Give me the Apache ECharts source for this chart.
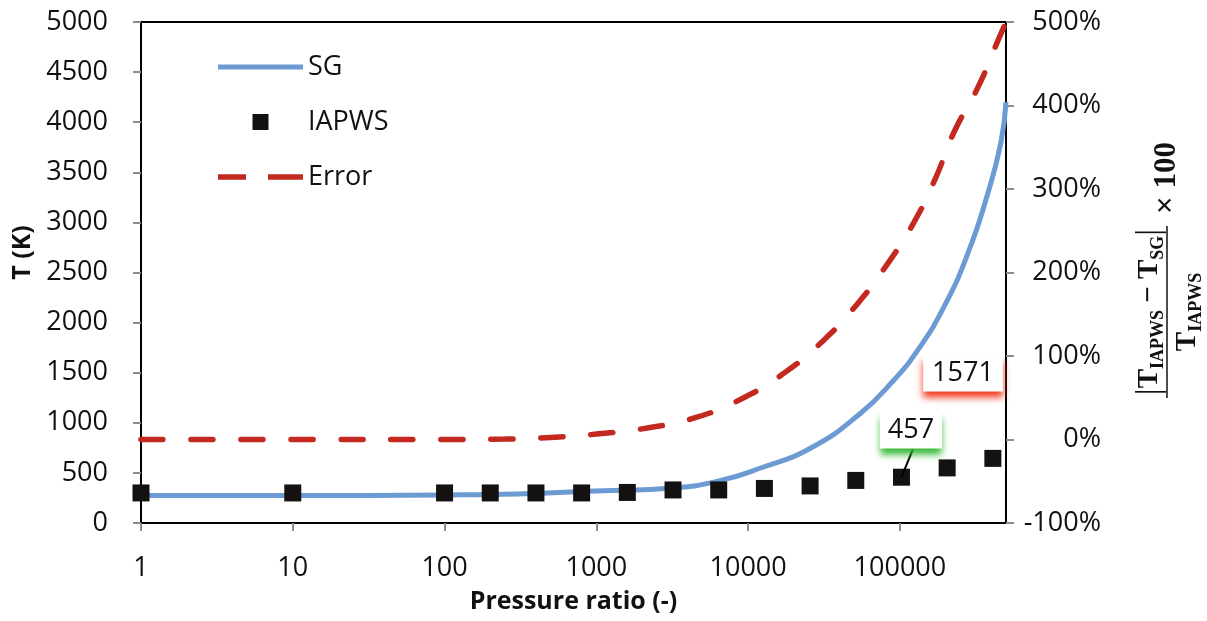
<!DOCTYPE html>
<html>
<head>
<meta charset="utf-8">
<title>SG vs IAPWS</title>
<script src="https://cdn.jsdelivr.net/npm/echarts@6/dist/echarts.min.js"></script>
<style>
  html, body { margin: 0; padding: 0; background: #fff; }
  #main { width: 1207px; height: 621px; }
</style>
</head>
<body>
<div id="main"></div>
<script>
// IAPWS 数据点 (压比, 温度 K)
var iapwsPressure = [1, 10, 100, 200, 400, 800, 1600, 3200, 6400, 12800, 25600, 51200, 102400, 204800, 409600];
var iapwsTemp = [300, 300, 300, 300, 300, 300, 305, 330, 330, 345, 370, 425, 457, 550, 645];

// SG 曲线 (读图取点)
var sgPressure = [1, 10, 100, 300, 1000, 3200, 6400, 12100, 25900, 55300, 91300, 131400, 195000, 281000, 380000, 463000, 500000];
var sgTemp = [275, 275, 280, 290, 320, 350, 420, 549, 749, 1098, 1427, 1727, 2156, 2695, 3293, 3800, 4200];

// 误差曲线 (%)
var errPressure = [1, 10, 100, 250, 500, 1000, 2210, 4650, 9350, 17700, 31500, 52800, 83300, 123700, 172700, 227000, 327000, 443000, 500000];
var errPercent = [0, 0, 0, 0.5, 2.5, 6.5, 14, 27, 50, 81, 119, 163, 211, 260, 314, 368, 422, 478, 500];

// 坐标轴刻度
var xTickLabels = ["1", "10", "100", "1000", "10000", "100000"];
var leftAxisRange = [0, 5000, 500];
var rightAxisRange = [-100, 500, 100];

// 标注 (压比 1e5 处的 SG / IAPWS 温度)
var noteLabels = ["1571", "457"];

var FONT = '"Open Sans", sans-serif';
var SERIF = '"Liberation Serif", "DejaVu Serif", serif';

function zip(xs, ys) {
  var out = [];
  for (var i = 0; i < xs.length; i++) {
    out.push([xs[i], ys[i]]);
  }
  return out;
}

var tickStyle = { show: true, inside: false, length: 8, lineStyle: { color: "#8c8c8c", width: 2 } };
var noLine = { width: 0 };

var chart = echarts.init(document.getElementById("main"));
var option = {
  backgroundColor: "#fff",
  animation: false,
  grid: {
    left: 141,
    right: 201,
    top: 22,
    bottom: 98,
    show: true,
    borderColor: "#000",
    borderWidth: 2,
  },
  legend: {
    orient: "vertical",
    left: 213,
    top: 48,
    itemWidth: 85,
    itemHeight: 16,
    itemGap: 27,
    symbolKeepAspect: true,
    textStyle: { fontFamily: FONT, fontSize: 27, color: "#111", lineHeight: 28 },
    data: [
      { name: "SG", icon: "path://M0,0L85,0L85,5L0,5Z", itemStyle: { borderWidth: 0 }, lineStyle: noLine },
      { name: "IAPWS", icon: "path://M0,0L15,0L15,15L0,15Z", itemStyle: { borderWidth: 0 }, lineStyle: noLine },
      {
        name: "Error",
        icon: "path://M0,0L28,0L28,5.5L0,5.5ZM50,0L85,0L85,5.5L50,5.5Z",
        itemStyle: { borderWidth: 0 },
        lineStyle: noLine,
      },
    ],
  },
  xAxis: {
    type: "log",
    logBase: 10,
    min: 1,
    max: 500000,
    name: "Pressure ratio (-)",
    nameLocation: "middle",
    nameGap: 66,
    nameTextStyle: { fontFamily: FONT, fontSize: 25, fontWeight: "bold", color: "#111" },
    axisLine: { show: true, lineStyle: { color: "#000", width: 2 } },
    axisTick: tickStyle,
    minorTick: { show: false },
    splitLine: { show: false },
    axisLabel: {
      margin: 32,
      fontFamily: FONT,
      fontSize: 27,
      color: "#111",
      showMaxLabel: false,
      formatter: function (v) {
        var s = String(Math.round(v));
        return xTickLabels.indexOf(s) >= 0 ? s : "";
      },
    },
  },
  yAxis: [
    {
      type: "value",
      min: leftAxisRange[0],
      max: leftAxisRange[1],
      interval: leftAxisRange[2],
      name: "T (K)",
      nameLocation: "middle",
      nameGap: 92,
      nameTextStyle: { fontFamily: FONT, fontSize: 25, fontWeight: "bold", color: "#111", padding: [0, 0, 0, 40] },
      axisLine: { show: true, lineStyle: { color: "#000", width: 2 } },
      axisTick: tickStyle,
      splitLine: { show: false },
      axisLabel: {
        margin: 33,
        fontFamily: FONT,
        fontSize: 27,
        color: "#111",
        formatter: function (v) {
          return String(v);
        },
      },
    },
    {
      type: "value",
      position: "right",
      min: rightAxisRange[0],
      max: rightAxisRange[1],
      interval: rightAxisRange[2],
      axisLine: { show: true, lineStyle: { color: "#000", width: 2 } },
      axisTick: tickStyle,
      splitLine: { show: false },
      axisLabel: {
        margin: 95,
        align: "right",
        fontFamily: FONT,
        fontSize: 27,
        color: "#111",
        formatter: function (v) {
          return v + "%";
        },
      },
    },
  ],
  series: [
    {
      name: "Error",
      type: "line",
      yAxisIndex: 1,
      smooth: 0.5,
      symbol: "none",
      lineStyle: { color: "#C4291F", width: 5.5, type: [22, 28], cap: "round" },
      itemStyle: { color: "#C4291F" },
      data: zip(errPressure, errPercent),
      z: 2,
    },
    {
      name: "SG",
      type: "line",
      smooth: 0.5,
      symbol: "none",
      lineStyle: { color: "#6C9BD4", width: 5 },
      itemStyle: { color: "#6C9BD4" },
      data: zip(sgPressure, sgTemp),
      z: 3,
      markPoint: {
        symbol: "rect",
        symbolSize: 1,
        itemStyle: { color: "rgba(0,0,0,0)" },
        label: {
          show: true,
          position: "inside",
          formatter: noteLabels[0],
          fontFamily: FONT,
          fontSize: 27,
          color: "#111",
          backgroundColor: "#fff",
          padding: [3, 9, 3, 9],
          lineHeight: 31,
          shadowColor: "rgba(240,50,20,0.95)",
          shadowBlur: 7,
          shadowOffsetY: 6,
        },
        data: [{ coord: [260400, 1497] }],
      },
    },
    {
      name: "IAPWS",
      type: "scatter",
      symbol: "rect",
      symbolSize: 17,
      clip: false,
      itemStyle: { color: "#141210", opacity: 1 },
      data: zip(iapwsPressure, iapwsTemp),
      z: 4,
      markLine: {
        silent: true,
        symbol: ["none", "none"],
        label: { show: false },
        lineStyle: { color: "#000", width: 2, type: "solid" },
        data: [[{ coord: [102400, 457] }, { coord: [121900, 738] }]],
      },
      markPoint: {
        symbol: "rect",
        symbolSize: 1,
        itemStyle: { color: "rgba(0,0,0,0)" },
        label: {
          show: true,
          position: "inside",
          formatter: noteLabels[1],
          fontFamily: FONT,
          fontSize: 27,
          color: "#111",
          backgroundColor: "#fff",
          padding: [3, 8, 3, 8],
          lineHeight: 31,
          shadowColor: "rgba(40,180,40,0.95)",
          shadowBlur: 7,
          shadowOffsetY: 6,
        },
        data: [{ coord: [118200, 928] }],
      },
    },
  ],
  graphic: [
    {
      // 右侧纵轴公式
      type: "group",
      x: 1167,
      y: 312,
      rotation: Math.PI / 2,
      children: [
        {
          type: "text",
          x: 0,
          y: -17,
          style: {
            text: "{bar||}{t|T}{s|IAPWS}{t| − T}{s|SG}{bar||}",
            align: "center",
            verticalAlign: "middle",
            fill: "#111",
            rich: {
              t: { fontFamily: SERIF, fontWeight: "bold", fontSize: 29, lineHeight: 34 },
              s: { fontFamily: SERIF, fontWeight: "bold", fontSize: 18, lineHeight: 17, verticalAlign: "bottom" },
              bar: { fontFamily: SERIF, fontSize: 34, lineHeight: 34 },
            },
          },
        },
        {
          type: "line",
          shape: { x1: -86, y1: 0, x2: 86, y2: 0 },
          style: { stroke: "#111", lineWidth: 1.5 },
        },
        {
          type: "text",
          x: 0,
          y: 21,
          style: {
            text: "{t|T}{s|IAPWS}",
            align: "center",
            verticalAlign: "middle",
            fill: "#111",
            rich: {
              t: { fontFamily: SERIF, fontWeight: "bold", fontSize: 29, lineHeight: 34 },
              s: { fontFamily: SERIF, fontWeight: "bold", fontSize: 18, lineHeight: 17, verticalAlign: "bottom" },
            },
          },
        },
        {
          type: "text",
          x: 134,
          y: 0,
          style: {
            text: "× 100",
            align: "center",
            verticalAlign: "middle",
            fill: "#111",
            fontFamily: SERIF,
            fontWeight: "bold",
            fontSize: 31,
          },
        },
      ],
    },
  ],
};
chart.setOption(option);
</script>
</body>
</html>
